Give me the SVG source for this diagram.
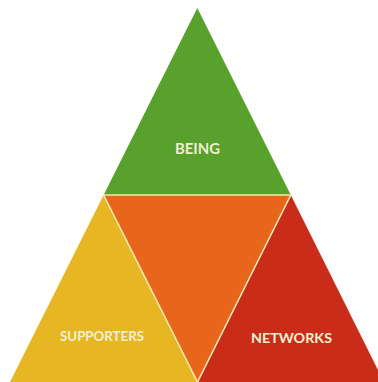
<svg xmlns="http://www.w3.org/2000/svg" width="378" height="382" viewBox="0 0 378 382">
<style>
.lbl{font-family:"Lato","Open Sans","DejaVu Sans",sans-serif;font-weight:bold;fill:#f1efd2;text-anchor:middle}
.sep{stroke:#f4e9b0;stroke-width:1.6;fill:none;stroke-linecap:round}
</style>
<rect width="378" height="382" fill="#ffffff"/>
<g id="being">
<polygon points="197.3,8 103.6,195 290.8,195" fill="#58a12c"/>
<text class="lbl" x="197.5" y="154" font-size="15" textLength="45" lengthAdjust="spacingAndGlyphs">BEING</text>
</g>
<g id="center">
<polygon points="103.6,195 290.8,195 197.5,382" fill="#e8661c"/>
</g>
<g id="supporters">
<polygon points="103.6,195 10,382 197.5,382" fill="#e6b722"/>
<text class="lbl" x="102" y="341" font-size="12.5" textLength="84" lengthAdjust="spacingAndGlyphs">SUPPORTERS</text>
</g>
<g id="networks">
<polygon points="290.8,195 197.5,382 384,382" fill="#c92d1a"/>
<text class="lbl" x="291.5" y="342.5" font-size="13.5" textLength="81" lengthAdjust="spacingAndGlyphs">NETWORKS</text>
</g>
<g id="separators">
<line class="sep" x1="103.6" y1="195" x2="290.8" y2="195"/>
<line class="sep" x1="103.6" y1="195" x2="197.5" y2="382"/>
<line class="sep" x1="290.8" y1="195" x2="197.5" y2="382"/>
</g>
</svg>
